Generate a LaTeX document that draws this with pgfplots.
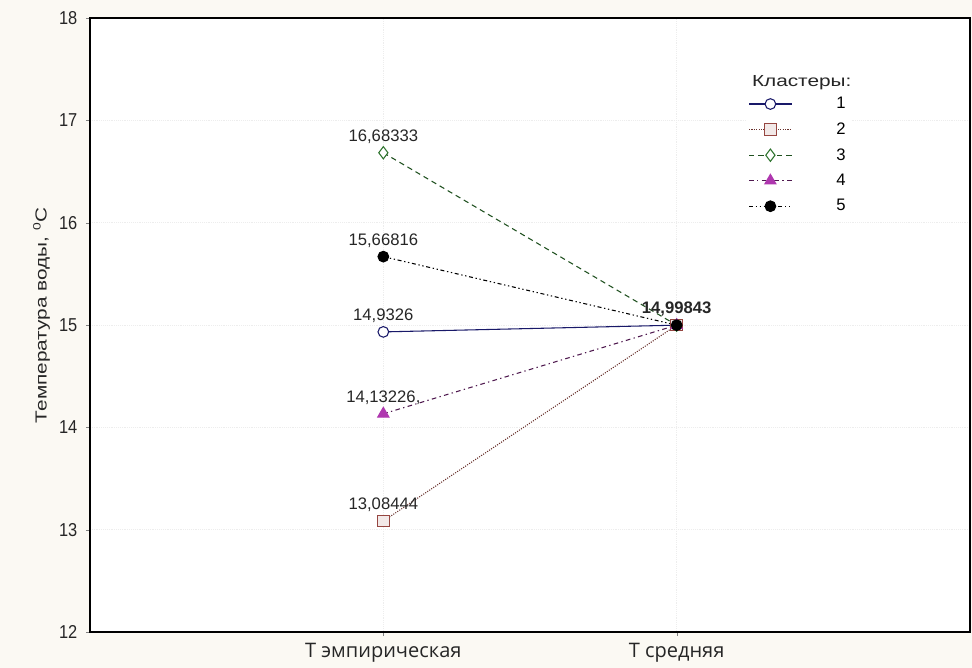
\documentclass[border=0pt]{standalone}
\usepackage{fontspec}
\setmainfont{Liberation Sans}
\newfontfamily\catfont{Open Sans}
\newfontfamily\widefont[FakeStretch=1.3]{Liberation Sans}
\newfontfamily\narrowfont[FakeStretch=0.88]{Liberation Sans}
\usepackage{pgfplots}
\pgfplotsset{compat=1.18}

\definecolor{bgcream}{RGB}{251,249,243}
\definecolor{cnavy}{RGB}{25,25,105}
\definecolor{cbrown}{RGB}{150,70,65}
\definecolor{cgreen}{RGB}{45,115,45}
\definecolor{cmag}{RGB}{175,55,175}

\begin{document}
\begin{tikzpicture}
\fill[bgcream] (0,0) rectangle (729pt,501pt);
\begin{axis}[
  at={(67.5pt,27pt)}, anchor=south west,
  scale only axis, width=660pt, height=460.5pt,
  xmin=-1, xmax=2, ymin=12, ymax=18,
  xtick={0,1}, xticklabels={Т эмпирическая, Т средняя},
  ytick={12,13,...,18},
  tick align=outside, xtick pos=bottom, ytick pos=left,
  major tick length=3pt,
  axis line style={line width=0.9pt},
  axis background/.style={fill=white},
  grid=major,
  major grid style={black!7, densely dotted, line width=0.4pt},
  /pgf/number format/assume math mode=true,
  yticklabel style={font=\narrowfont\fontsize{14}{16}\selectfont, text=black!85, xshift=-3pt},
  xticklabel style={font=\catfont\fontsize{15}{17}\selectfont, text=black!85, yshift=-2pt},
  ylabel={Температура воды, \textsuperscript{0}C},
  ylabel style={font=\widefont\fontsize{12}{14}\selectfont, text=black!85,
    at={(ticklabel cs:0.516)}},
  nodes near coords,
  point meta=explicit symbolic,
  nodes near coords style={font=\fontsize{12.5}{14}\selectfont, text=black!85,
    anchor=base, yshift=8.5pt, inner sep=0pt},
  legend style={at={(rel axis cs:0.745,0.88)}, anchor=north west,
    draw=none, fill=white, font=\fontsize{12.5}{14}\selectfont,
    row sep=5pt, inner sep=2pt,
    /tikz/every odd column/.append style={column sep=31pt}},
  legend cell align=left,
  legend image code/.code={%
    \draw[mark repeat=2, mark phase=2]
      plot coordinates {(0pt,0pt) (16pt,0pt) (32pt,0pt)};},
]
% cluster 1
\addplot[cnavy, line width=0.8pt, mark=*, mark size=4pt,
  mark options={solid, fill=white, draw=cnavy}]
  coordinates {(0,14.9326)[14,9326] (1,14.99843)[\bfseries 14,99843]};
\addlegendentry{1}
% cluster 2
\addplot[cbrown!70!black, line width=0.8pt, densely dotted, mark=square*, mark size=4.3pt,
  mark options={solid, fill=cbrown!12, draw=cbrown}]
  coordinates {(0,13.08444)[13,08444] (1,14.99843)[]};
\addlegendentry{2}
% cluster 3
\addplot[cgreen!70!black, line width=0.8pt, dash pattern=on 4pt off 3pt, mark=diamond*, mark size=4.6pt,
  mark options={solid, fill=white, draw=cgreen}]
  coordinates {(0,16.68333)[16,68333] (1,14.99843)[]};
\addlegendentry{3}
% cluster 4
\addplot[cmag!45!black, line width=0.8pt, dash pattern=on 3.5pt off 2.5pt on 1pt off 2.5pt, mark=triangle*, mark size=4.8pt,
  mark options={solid, fill=cmag, draw=cmag}]
  coordinates {(0,14.13226)[14,13226,] (1,14.99843)[]};
\addlegendentry{4}
% cluster 5
\addplot[black, line width=0.8pt, dash pattern=on 3pt off 2pt on 1pt off 2pt on 1pt off 2pt, mark=*, mark size=4pt,
  mark options={solid, fill=black, draw=black}]
  coordinates {(0,15.66816)[15,66816] (1,14.99843)[]};
\addlegendentry{5}
\node[anchor=west, font=\widefont\fontsize{12}{14}\selectfont, text=black!85, inner sep=0pt]
  at (rel axis cs:0.752,0.895) {Кластеры:};
\end{axis}
\end{tikzpicture}
\end{document}
